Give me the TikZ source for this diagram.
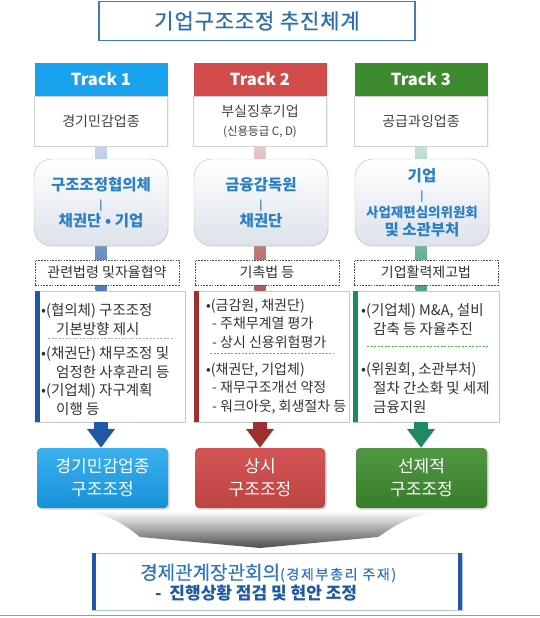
\documentclass[tikz,border=0pt]{standalone}
\usepackage{fontspec}
\setmainfont{Noto Sans CJK KR}
\usetikzlibrary{arrows.meta,shadows,backgrounds}

\definecolor{tonblue}{HTML}{19A2EE}
\definecolor{tonred}{HTML}{D24B4B}
\definecolor{tongreen}{HTML}{3D8B2F}
\definecolor{barblue}{HTML}{2158A6}
\definecolor{barred}{HTML}{9E2F2F}
\definecolor{bargreen}{HTML}{1F8A62}
\definecolor{titleblue}{HTML}{3E7DB8}
\definecolor{titletext}{HTML}{2E6FA8}
\definecolor{orgblue}{HTML}{2B80C4}
\definecolor{orggray}{HTML}{DCE2EA}
\definecolor{councilblue}{HTML}{2F76BC}
\definecolor{councildark}{HTML}{1F5A9E}

\begin{document}
\begin{tikzpicture}[x=1pt,y=-1pt,
   every node/.style={inner sep=0pt},
   header/.style={minimum width=133pt,minimum height=33pt,text=white,font=\fontsize{16.5}{18}\selectfont\bfseries},
   sector/.style={draw=black!18,fill=white,minimum width=133pt,minimum height=50pt,align=center,text=black!75,
      font=\fontsize{14}{19}\selectfont,drop shadow={opacity=0.12,shadow xshift=1pt,shadow yshift=-1pt}},
   organ/.style={draw=black!28,rounded corners=18pt,top color=white,bottom color=orggray,minimum width=134pt,
      minimum height=87pt,align=center,text=orgblue,font=\fontsize{15.5}{18}\selectfont\bfseries,
      drop shadow={opacity=0.12,shadow xshift=1pt,shadow yshift=-1pt}},
   lawbox/.style={draw=black!70,dash pattern=on 1.6pt off 1.2pt,fill=white,minimum width=144pt,minimum height=25pt,
      text=black!80,font=\fontsize{14}{15}\selectfont},
   taskbox/.style={draw=black!22,fill=white,minimum height=131pt},
   tasktext/.style={anchor=north west,align=left,text=black!80,font=\fontsize{14.5}{18.5}\selectfont},
   result/.style={rounded corners=4pt,minimum width=131pt,minimum height=60pt,align=center,text=white,
      font=\fontsize{17}{23}\selectfont,drop shadow={opacity=0.3,shadow xshift=1.5pt,shadow yshift=-1.5pt}},
   push/.style={line width=14pt,-{Triangle[width=27pt,length=19pt]}},
   rule/.style={dash pattern=on 2pt off 1.5pt,line width=0.6pt}]
   \useasboundingbox (0,0) rectangle (540,618);
   \node (title) at (257,21) [draw=titleblue,line width=1.8pt,fill=white,minimum width=316pt,minimum height=39pt,
      text=titletext,font=\fontsize{21}{24}\selectfont\addfontfeatures{LetterSpace=4,FakeBold=0.8}] {기업구조조정 추진체계};
   \node (track1)  at (101,79.5)   [header,fill=tonblue]   {Track 1};
   \node (track2)  at (260,79.5)   [header,fill=tonred]    {Track 2};
   \node (track3)  at (421,79.5)   [header,fill=tongreen]  {Track 3};
   \node (sector1) at (101,121)    [sector] {경기민감업종};
   \node (sector2) at (260,121)    [sector] {부실징후기업\\{\fontsize{11.5}{13}\selectfont(신용등급 C, D)}};
   \node (sector3) at (421,121)    [sector] {공급과잉업종};
   \node (org1)    at (101,202.5)  [organ] {구조조정협의체\\{\fontsize{10}{12}\selectfont|}\\채권단 • 기업};
   \node (org2)    at (261,202.5)  [organ] {금융감독원\\{\fontsize{10}{12}\selectfont|}\\채권단};
   \node (org3)    at (422,202.5)  [organ] {기업\\{\fontsize{10}{12}\selectfont|}\\{\fontsize{13.5}{15}\selectfont 사업재편심의위원회}\\및 소관부처};
   \node (law1)    at (107,272.5)  [lawbox] {관련법령 및자율협약};
   \node (law2)    at (267,272.5)  [lawbox] {기촉법 등};
   \node (law3)    at (426,272.5)  [lawbox] {기업활력제고법};
   \node (task1)   at (110,356.5)  [taskbox,minimum width=150pt] {};
   \node (task2)   at (272,356.5)  [taskbox,minimum width=155pt] {};
   \node (task3)   at (426,356.5)  [taskbox,minimum width=146pt] {};
   \fill[barblue]  (task1.north west) rectangle ([xshift=5pt]task1.south west);
   \fill[barred]   (task2.north west) rectangle ([xshift=5pt]task2.south west);
   \fill[bargreen] (task3.north west) rectangle ([xshift=5pt]task3.south west);
   \node (task1a)  at (41,303.5)   [tasktext] {•(협의체) 구조조정\\\hspace*{15pt}기본방향 제시};
   \node (task1b)  at (41,346.5)   [tasktext] {•(채권단) 채무조정 및\\\hspace*{15pt}엄정한 사후관리 등\\•(기업체) 자구계획\\\hspace*{15pt}이행 등};
   \node (task2a)  at (206,298.5)  [tasktext,font=\fontsize{14}{18.5}\selectfont] {•(금감원, 채권단)\\\hspace*{6pt}- 주채무계열 평가\\\hspace*{6pt}- 상시 신용위험평가};
   \node (task2b)  at (206,362.5)  [tasktext,font=\fontsize{14}{18.5}\selectfont] {•(채권단, 기업체)\\\hspace*{6pt}- 재무구조개선 약정\\\hspace*{6pt}- 워크아웃, 회생절차 등};
   \node (task3a)  at (361,303.5)  [tasktext] {•(기업체) M\&A, 설비\\\hspace*{12pt}감축 등 자율추진};
   \node (task3b)  at (361,362.5)  [tasktext,font=\fontsize{14.5}{19}\selectfont] {•(위원회, 소관부처)\\\hspace*{12pt}절차 간소화 및 세제\\\hspace*{12pt}금융지원};
   \draw[rule,barblue!45]      (48,338)  -- (173,338);
   \draw[rule,orange!70!brown] (210,353) -- (334,353);
   \draw[rule,green!45!gray]   (367,346) -- (489,346);
   \node (res1)    at (102.5,478)  [result,top color=tonblue!85!white,bottom color=tonblue!90!black] {경기민감업종\\구조조정};
   \node (res2)    at (260,478)    [result,minimum width=130pt,top color=tonred!95!white,bottom color=tonred!90!black] {상시\\구조조정};
   \node (res3)    at (421.5,478)  [result,top color=tongreen!90!white,bottom color=tongreen!90!black] {선제적\\구조조정};
   \draw[push,barblue]  (sector1 |- task1.south) -- (sector1 |- res1.north);
   \draw[push,barred]   (track2 |- task2.south)  -- (track2 |- res2.north);
   \draw[push,bargreen] (track3 |- task3.south)  -- (track3 |- res3.north);
   \shade[top color=white,middle color=black!15,bottom color=black!70]
      (78,511) .. controls (112,513) and (128,528) .. (140,537) -- (260,548) -- (378,537)
      .. controls (392,528) and (410,513) .. (446,511) -- cycle;
   \node (council) at (277,581.5)  [draw=barblue!35,line width=0.6pt,fill=white,minimum width=370pt,minimum height=57pt] {};
   \draw[line width=4pt,barblue] ([xshift=2pt]council.north west) -- ([xshift=2pt]council.south west);
   \draw[line width=4pt,barblue] ([xshift=-2pt]council.north east) -- ([xshift=-2pt]council.south east);
   \node (councilhead) at (140,573) [anchor=west,text=councilblue,font=\fontsize{19}{20}\selectfont\addfontfeatures{FakeBold=0.5}]
      {경제관계장관회의{\fontsize{14}{15}\selectfont\addfontfeatures{LetterSpace=12}(경제부총리 주재)}};
   \node (councilnote) at (155,593) [anchor=west,text=councildark,font=\fontsize{17}{18}\selectfont\bfseries]
      {-\ \ 진행상황 점검 및 현안 조정};
   \draw[black!40,line width=1pt] (0,615) -- (540,615);
   \begin{pgfonlayer}{background}
      \shade[top color=barblue!25,bottom color=barblue!80]   ([xshift=-5.5pt]sector1.south) rectangle ([xshift=5.5pt]sector1 |- task1.north);
      \shade[top color=barred!25,bottom color=barred!80]     ([xshift=-5.5pt]sector2.south) rectangle ([xshift=5.5pt]sector2 |- task2.north);
      \shade[top color=bargreen!25,bottom color=bargreen!80] ([xshift=-5.5pt]sector3.south) rectangle ([xshift=5.5pt]sector3 |- task3.north);
   \end{pgfonlayer}
\end{tikzpicture}
\end{document}
